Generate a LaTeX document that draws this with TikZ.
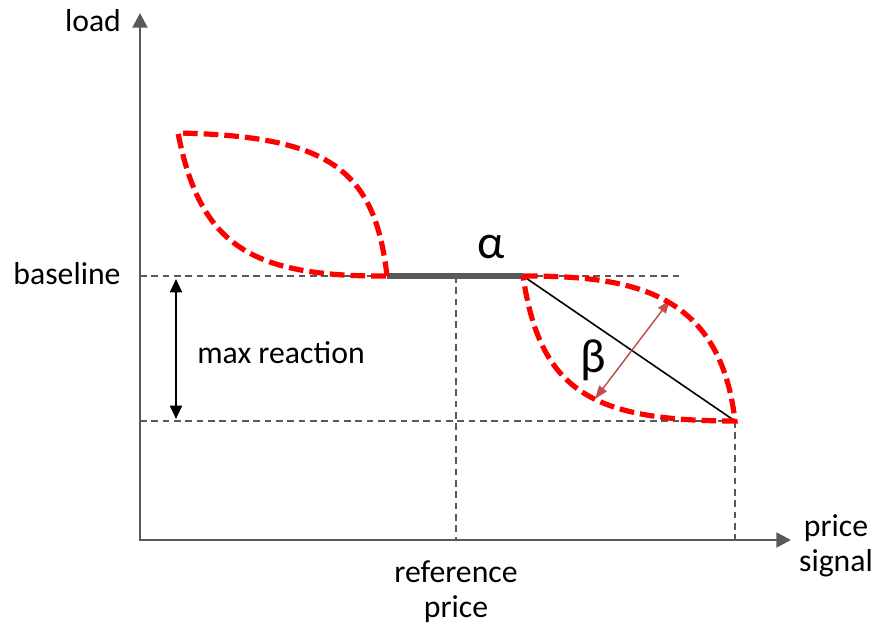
\documentclass[tikz,border=0pt]{standalone}
\usepackage{fontspec}
\setmainfont{Carlito}
\usetikzlibrary{arrows.meta,positioning,calc}
\definecolor{axisgray}{RGB}{89, 89, 89}
\definecolor{curvered}{RGB}{255, 0, 0}
\definecolor{betared}{RGB}{192, 80, 77}

\begin{document}
\begin{tikzpicture}[
    x=0.75pt, y=-0.75pt,
    every node/.style={align=center, inner sep=0pt, font=\fontsize{23.8}{26}\selectfont},
    axis/.style={draw=axisgray, line width=2.2pt, -{Triangle[length=11pt, width=11pt]}},
    guide/.style={draw=axisgray, line width=1pt, dash pattern=on 5pt off 3.5pt},
    response/.style={draw=curvered, line width=3.9pt, dash pattern=on 11pt off 4.5pt, line join=miter},
    span/.style={draw=black, line width=1.5pt, {Triangle[length=10pt, width=9pt]}-{Triangle[length=10pt, width=9pt]}},
    spread/.style={draw=betared, line width=1.1pt, {Triangle[length=10pt, width=7pt]}-{Triangle[length=10pt, width=7pt]}},
    greek/.style={font=\fontsize{36}{38}\selectfont}
]
\useasboundingbox (0,0) rectangle (875,627);

% Key points
\coordinate (origin) at (140,540);
\coordinate (y_tip) at (140,13);
\coordinate (x_tip) at (791,540);
\coordinate (base_left) at (140,276);
\coordinate (base_right) at (680,276);
\coordinate (low_left) at (140,421);
\coordinate (ref_top) at (456,276);
\coordinate (ref_bottom) at (456,540);
\coordinate (sig_bottom) at (735,540);
\coordinate (alpha_start) at (387,276);
\coordinate (alpha_end) at (523,276);
\coordinate (leaf_top) at (178,133);
\coordinate (leaf_bottom) at (735,421);
\coordinate (react_top) at (176,279);
\coordinate (react_bottom) at (176,419);
\coordinate (beta_low) at (595,399);
\coordinate (beta_high) at (670,300);

% Labels
\node (load) at (93,21) {load};
\node (baseline) at (67,274) {baseline};
\node (max_reaction) at (281,353) {max reaction};
\node (price_signal) at (836,546) {price\\signal};
\node (reference_price) at (456,592) {reference\\price};
\node[greek] (alpha) at (491,247) {α};
\node[greek] (beta) at (593,360) {β};

% Guide lines
\draw[guide] (base_left) -- (base_right);
\draw[guide] (low_left) -- (leaf_bottom);
\draw[guide] (ref_top) -- (ref_bottom);
\draw[guide] (leaf_bottom) -- (sig_bottom);

% Axes
\draw[axis] ([yshift=-0.8pt]origin) -- (y_tip);
\draw[axis] ([xshift=-0.8pt]origin) -- (x_tip);

% Dead band and reactions
\draw[axisgray, line width=4.5pt] (alpha_start) -- (alpha_end);
\draw[black, line width=1.2pt] (alpha_end) -- (leaf_bottom);
\draw[span] (react_top) -- (react_bottom);
\draw[spread] (beta_low) -- (beta_high);
\draw[response] (alpha_start) .. controls (375,170) and (330,136) .. (leaf_top)
    .. controls (200,245) and (250,277) .. (alpha_start);
\draw[response] (alpha_end) .. controls (630,276) and (720,290) .. (leaf_bottom)
    .. controls (590,421) and (540,390) .. (alpha_end);

\end{tikzpicture}
\end{document}
